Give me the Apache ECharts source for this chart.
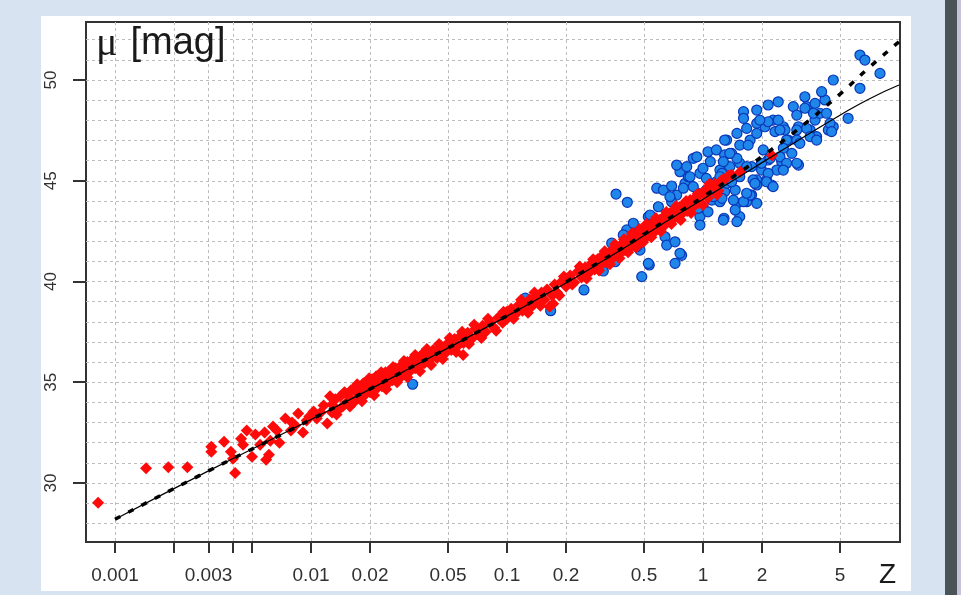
<!DOCTYPE html>
<html><head><meta charset="utf-8">
<script src="https://cdn.jsdelivr.net/npm/echarts@6/dist/echarts.min.js"></script>
<style>
html,body{margin:0;padding:0;background:#d7e3f0;overflow:hidden;}
#panel{position:absolute;left:41px;top:16px;width:870px;height:575px;background:#fff;}
#bar{position:absolute;left:945px;top:0;width:12px;height:595px;background:#4a5456;}
#strip{position:absolute;left:957px;top:0;width:4px;height:595px;background:#c6c2da;}
#c{position:absolute;left:0;top:0;width:961px;height:595px;}
</style>
</head><body>
<div id="panel"></div><div id="bar"></div><div id="strip"></div>
<div id="c"></div>
<script>
// ---- axis ticks / labels ----
const xTicks = [0.001,0.002,0.003,0.004,0.005,0.01,0.02,0.05,0.1,0.2,0.5,1,2,5];
const xLabels = [0.001,0.003,0.01,0.02,0.05,0.1,0.2,0.5,1,2,5];
const yGrid = [28,29,30,31,32,33,34,35,36,37,38,39,40,41,42,43,44,45,46,47,48,49,50,51,52];
const yLabels = [30,35,40,45,50];

// ---- supernovae (red) [z, mu] ----
const snPoints = [
[0.00082,29.02],[0.00144,30.73],[0.00187,30.78],[0.00234,30.78],
[0.0031,31.8],[0.0031,31.55],[0.0036,32.05],[0.0039,31.55],[0.0040,31.2],[0.0041,30.5],[0.0044,32.2],[0.0045,31.9],[0.0047,32.6],[0.0050,31.3],[0.0052,32.4],[0.0055,31.9],[0.0058,32.5],[0.0059,31.15],[0.0061,31.4],[0.0062,32.1],[0.0064,32.8],[0.0067,32.6],[0.0069,32.0],[0.0074,33.2],[0.0079,32.6],[0.0080,33.0],[0.0083,32.85],[0.0086,33.45],[0.0091,32.5],[0.0095,33.1],[0.0098,33.3],[0.0103,33.55],[0.0107,33.2],[0.0112,33.5],[0.0116,33.85],[0.0121,32.95],[0.0125,34.3],
[0.0128,33.9],[0.0128,33.5],[0.0133,34.15],[0.0137,33.6],[0.0141,34.3],[0.0145,33.8],[0.015,34.45],[0.015,33.95],[0.0155,34.0],[0.016,34.6],[0.016,34.15],[0.0165,34.0],[0.017,34.5],[0.017,34.75],[0.0175,34.2],[0.018,34.65],[0.018,34.3],[0.0185,34.95],[0.019,34.4],[0.019,34.8],[0.0195,35.05],[0.020,34.5],[0.020,34.85],[0.0205,35.15],[0.021,34.6],[0.0215,35.0],[0.0215,35.3],[0.022,34.75],[0.0225,35.2],[0.023,34.8],[0.023,35.4],[0.0235,35.15],[0.024,34.9],[0.024,35.5],[0.0245,35.3],[0.025,35.0],[0.025,35.55],[0.026,35.45],[0.026,35.1],[0.027,35.7],[0.027,35.2],[0.028,35.6],[0.029,35.3],[0.029,35.85],[0.030,35.75],[0.030,35.4],[0.031,36.0],[0.032,35.55],[0.032,35.9],[0.033,36.15],[0.034,35.7],[0.035,36.2],[0.035,36.05],[0.036,35.8],[0.037,36.4],[0.038,35.95],[0.038,36.25],[0.039,36.5],[0.040,36.05],[0.040,36.35],[0.042,36.6],[0.044,36.2],[0.044,36.55],[0.046,36.8],[0.048,36.4],[0.048,36.75],[0.050,36.95],[0.052,36.6],[0.054,37.15],[0.056,36.8],[0.058,37.3],[0.0597,36.35],[0.060,36.95],[0.063,37.45],[0.066,37.15],[0.069,37.65],[0.072,37.35],[0.075,37.8],[0.078,37.5],[0.082,38.0],[0.086,37.7],[0.090,38.2],[0.095,37.95],[0.100,38.5],[0.100,38.15],[0.105,38.65],[0.110,38.35],[0.115,38.85],[0.120,38.55],[0.120,38.95],[0.125,38.65],[0.130,39.1],[0.135,38.8],[0.140,39.3],[0.145,38.95],[0.150,39.45],[0.155,39.1],[0.160,39.6],[0.165,38.75],[0.170,39.3],[0.172,38.9],[0.175,39.85],[0.180,39.45],[0.190,40.0],[0.200,39.75],[0.200,40.15],[0.210,40.3],[0.220,39.95],[0.230,40.5],[0.240,40.2],[0.250,40.7],[0.260,40.4],[0.270,40.9],[0.280,40.6],[0.280,41.0],[0.290,41.1],[0.300,40.8],[0.300,41.2],[0.310,41.3],[0.320,40.95],[0.330,41.4],[0.330,41.05],[0.340,41.5],[0.350,41.2],[0.350,41.6],[0.360,41.7],[0.370,41.3],[0.380,41.8],[0.380,41.45],[0.390,41.9],[0.400,41.55],[0.400,41.95],[0.410,42.05],[0.420,41.65],[0.430,42.15],[0.430,41.8],[0.440,42.2],[0.450,41.85],[0.450,42.3],[0.460,42.35],[0.470,41.95],[0.480,42.45],[0.480,42.1],[0.490,42.5],[0.500,42.15],[0.500,42.6],[0.510,42.65],[0.520,42.25],[0.530,42.7],[0.530,42.35],[0.540,42.8],[0.550,42.4],[0.560,42.85],[0.570,42.5],[0.570,43.0],[0.580,42.9],[0.590,42.6],[0.600,43.05],[0.600,42.7],[0.620,43.15],[0.640,42.8],[0.660,43.3],[0.660,43.0],[0.680,43.4],[0.700,43.05],[0.700,43.5],[0.720,43.55],[0.740,43.2],[0.760,43.7],[0.780,43.35],[0.800,43.85],[0.830,43.5],[0.860,44.05],[0.890,43.7],[0.920,44.2],[0.950,43.9],[0.980,44.35],[1.020,44.5],[1.060,44.15],[1.100,44.7],[1.150,44.85],[1.200,44.5],[1.250,45.05],[1.300,45.1],[1.400,45.3],[1.550,45.45],[2.25,46.25],
[0.0135,33.4],[0.0148,34.5],[0.0158,33.8],[0.0172,34.9],[0.0182,34.05],[0.0198,35.2],[0.021,34.35],[0.0228,35.5],[0.0242,34.65],[0.0262,35.75],[0.0275,35.0],[0.0298,36.05],[0.031,35.25],[0.034,36.35],[0.036,35.55],[0.039,36.65],[0.041,35.85],[0.045,36.9],[0.047,36.15],[0.051,37.2],[0.055,36.5],[0.059,37.5],[0.064,36.9],[0.068,37.85],[0.074,37.2],[0.080,38.15],[0.088,37.55],[0.096,38.5],[0.108,38.15],[0.118,39.1],[0.128,38.45],[0.138,39.45],[0.148,38.8],[0.185,39.3],[0.195,40.25],[0.215,39.85],[0.235,40.75],[0.255,40.15],[0.275,41.1],[0.295,40.55],[0.315,41.5],[0.335,40.85],[0.355,41.85],[0.375,41.15],[0.395,42.1],[0.415,41.45],[0.435,42.4],[0.455,41.7],[0.475,42.6],[0.495,41.95],[0.515,42.85],[0.545,42.2],[0.575,43.15],[0.61,42.5],[0.65,43.45],[0.69,42.85],[0.73,43.75],[0.77,43.05],[0.82,44.0],[0.87,43.4],[0.94,44.35],[1.0,43.8],[1.08,44.85],[1.18,44.3],[1.35,45.25]
];

// ---- gamma-ray bursts (blue) [z, mu] ----
const grbPoints = [
[0.033,34.9],[0.124,39.17],[0.167,38.55],[0.247,39.58],[0.31,40.52],[0.342,41.9],
[0.36,44.34],[0.411,43.93],[0.45,42.56],[0.433,42.06],[0.477,41.56],[0.532,40.82],[0.487,40.24],[0.526,43.22],[0.547,42.8],[0.581,44.63],[0.628,44.54],[0.692,44.74],[0.734,44.29],[0.692,43.96],[0.64,42.22],[0.653,41.81],[0.72,41.97],[0.778,41.3],[0.72,40.9],[0.809,44.87],[0.841,45.2],[0.946,44.38],[0.965,43.22],[0.965,42.8],[1.0,43.71],[1.11,44.04],[1.22,43.96],[1.28,43.14],[1.54,43.22],[1.49,43.88],[1.67,43.96],[1.77,44.29],[1.88,45.04],[0.763,45.45],[0.965,45.37],[1.04,45.12],[1.17,44.95],
[0.734,45.78],[0.826,45.7],[0.892,46.11],[1.06,46.44],[1.17,46.53],[1.22,45.53],[1.32,47.02],[1.49,47.35],[1.54,46.77],[1.61,48.43],[1.61,48.1],[1.74,47.02],[1.88,48.51],[2.07,47.68],[2.15,48.76],[2.28,48.01],[2.42,48.92],[2.57,47.68],[2.72,47.02],[2.89,48.68],[3.01,48.26],[3.07,47.68],[3.31,49.17],[3.38,48.68],[3.52,47.52],[3.73,48.84],[3.73,48.01],[3.8,47.19],[3.95,48.35],[4.19,49.01],[4.03,49.42],[4.36,47.52],[4.62,50.0],[4.62,47.68],[5.5,48.1],[6.32,51.24],[6.7,50.99],[6.32,49.59],[8.0,50.33],
[3.31,48.6],[3.66,48.35],[4.27,48.35],[4.45,47.85],[1.88,47.85],[2.15,47.93],[2.42,48.01],[2.62,47.52],[3.01,47.52],[3.38,47.6],[3.52,47.19],[3.8,47.02],[4.53,47.44],[1.29,47.02],[1.88,47.35],[2.33,47.44],[2.67,47.02],[3.01,47.02],[1.29,46.28],[1.4,46.36],[1.7,46.77],[2.03,46.53],[2.57,46.61],[2.84,46.36],[3.12,46.86],[2.52,45.95],[3.07,45.78],[2.15,46.03],[2.38,45.53],[1.99,45.53],[1.77,45.7],[1.54,45.87],[1.37,45.7],[1.25,45.37],[1.8,45.04],[2.11,45.04],[2.24,44.79],[1.88,44.79],[1.74,44.29],[1.61,43.96],[1.46,44.54],[1.29,44.46],[1.54,45.2],[1.35,45.12],
[0.459,41.73],[0.763,41.4],[0.526,40.9],[0.468,42.47],[0.408,42.56],[0.537,43.3],[0.592,43.71],[0.678,44.21],[0.826,43.8],[0.946,43.63],[1.06,43.46],[1.27,43.05],[1.67,44.38],[1.84,44.87],[1.32,44.87],[1.22,45.2],[1.67,45.7],[1.99,45.87],[2.2,46.11],[2.47,46.19],[2.67,45.87],[3.01,45.87],[2.57,45.53],[2.15,45.37],[2.11,44.95],[2.28,44.71],[1.88,43.88],[1.43,44.04],[1.25,44.13],[1.13,44.21],[1.04,44.54],[1.46,43.55],[1.49,42.97],[1.4,44.95],[1.0,45.62],[1.09,45.95],[1.27,45.95],[1.49,46.11],[1.37,46.36],[0.858,45.2],[0.794,44.63],[0.892,44.71],[0.93,46.19],[1.67,47.6],[1.95,48.01],[2.47,47.52],
[0.441,42.89],[0.392,42.31],[0.547,42.56],[0.356,40.98]
];

// ---- model curves [z, mu] ----
const modelSolid = [[0.001,28.2],[0.003,30.6],[0.01,33.15],[0.03,35.55],[0.1,38.28],[0.2,39.93],[0.3,40.95],[0.5,42.28],[0.7,43.18],[1,44.08],[1.5,45.15],[2,45.9],[3,46.95],[5,48.25],[7,49.05],[10,49.75]];
const modelDashed = [[0.001,28.2],[0.003,30.6],[0.01,33.15],[0.03,35.57],[0.1,38.3],[0.3,41.0],[0.5,42.35],[1,44.2],[1.5,45.35],[2,46.2],[3,47.5],[5,49.3],[7,50.6],[10,51.9]];

const chart = echarts.init(document.getElementById('c'), null, {renderer:'canvas'});
const gridLine = {show:true, lineStyle:{color:'#bdbdbd', width:1, type:[3,3]}};
const fmt = v => String(parseFloat(Number(v).toPrecision(4)));
chart.setOption({
  animation:false,
  backgroundColor:'transparent',
  title:[
    {text:'{m|\u03bc}{b|[mag]}', left:96, top:24, padding:0,
     textStyle:{fontWeight:'normal', rich:{
       m:{fontFamily:'Liberation Serif', fontSize:40, fontWeight:'normal', color:'#1a1a1a'},
       b:{fontFamily:'Liberation Sans', fontSize:38, fontWeight:'normal', color:'#1a1a1a', padding:[0,0,0,13]}}}},
    {text:'Z', left:879, top:561, padding:0,
     textStyle:{fontFamily:'Liberation Sans', fontSize:28, fontWeight:'normal', color:'#1a1a1a'}}
  ],
  grid:{left:86, right:61, top:22, bottom:53, show:true, borderColor:'#333', borderWidth:2, backgroundColor:'transparent'},
  xAxis:{
    type:'log', logBase:10, min:0.000711, max:10.12,
    axisLine:{show:false},
    axisTick:{show:true, customValues:xTicks, length:11, lineStyle:{color:'#333', width:2}},
    axisLabel:{customValues:xLabels, margin:24, fontSize:19, fontFamily:'Liberation Sans', color:'#303030', formatter:fmt},
    splitLine:gridLine, minorTick:{show:false}, minorSplitLine:{show:false}
  },
  yAxis:[{
    type:'value', min:27.07, max:52.88,
    axisLine:{show:false},
    axisTick:{show:false, customValues:yGrid},
    axisLabel:{customValues:yLabels, rotate:90, margin:26, fontSize:17, fontFamily:'Liberation Sans', color:'#303030'},
    splitLine:gridLine
  },{
    type:'value', min:27.07, max:52.88, position:'left',
    axisLine:{show:false},
    axisTick:{show:true, customValues:yLabels, length:13, lineStyle:{color:'#333', width:2}},
    axisLabel:{show:false}, splitLine:{show:false}
  }],
  series:[
    {type:'scatter', name:'GRB', data:grbPoints, symbol:'circle', symbolSize:10, z:2,
     itemStyle:{color:'#1f86ea', borderColor:'#0a36b8', borderWidth:1.2, opacity:1}},
    {type:'scatter', name:'SN', data:snPoints, symbol:'diamond', symbolSize:12, z:3,
     itemStyle:{color:'#ff0a0a', opacity:1}},
    {type:'line', name:'model1', data:modelSolid, showSymbol:false, smooth:true, z:4,
     lineStyle:{color:'#000', width:1.2}},
    {type:'line', name:'model2', data:modelDashed, showSymbol:false, smooth:true, z:5,
     lineStyle:{color:'#000', width:3.5, type:[6,9]}}
  ]
});
</script>
</body></html>
